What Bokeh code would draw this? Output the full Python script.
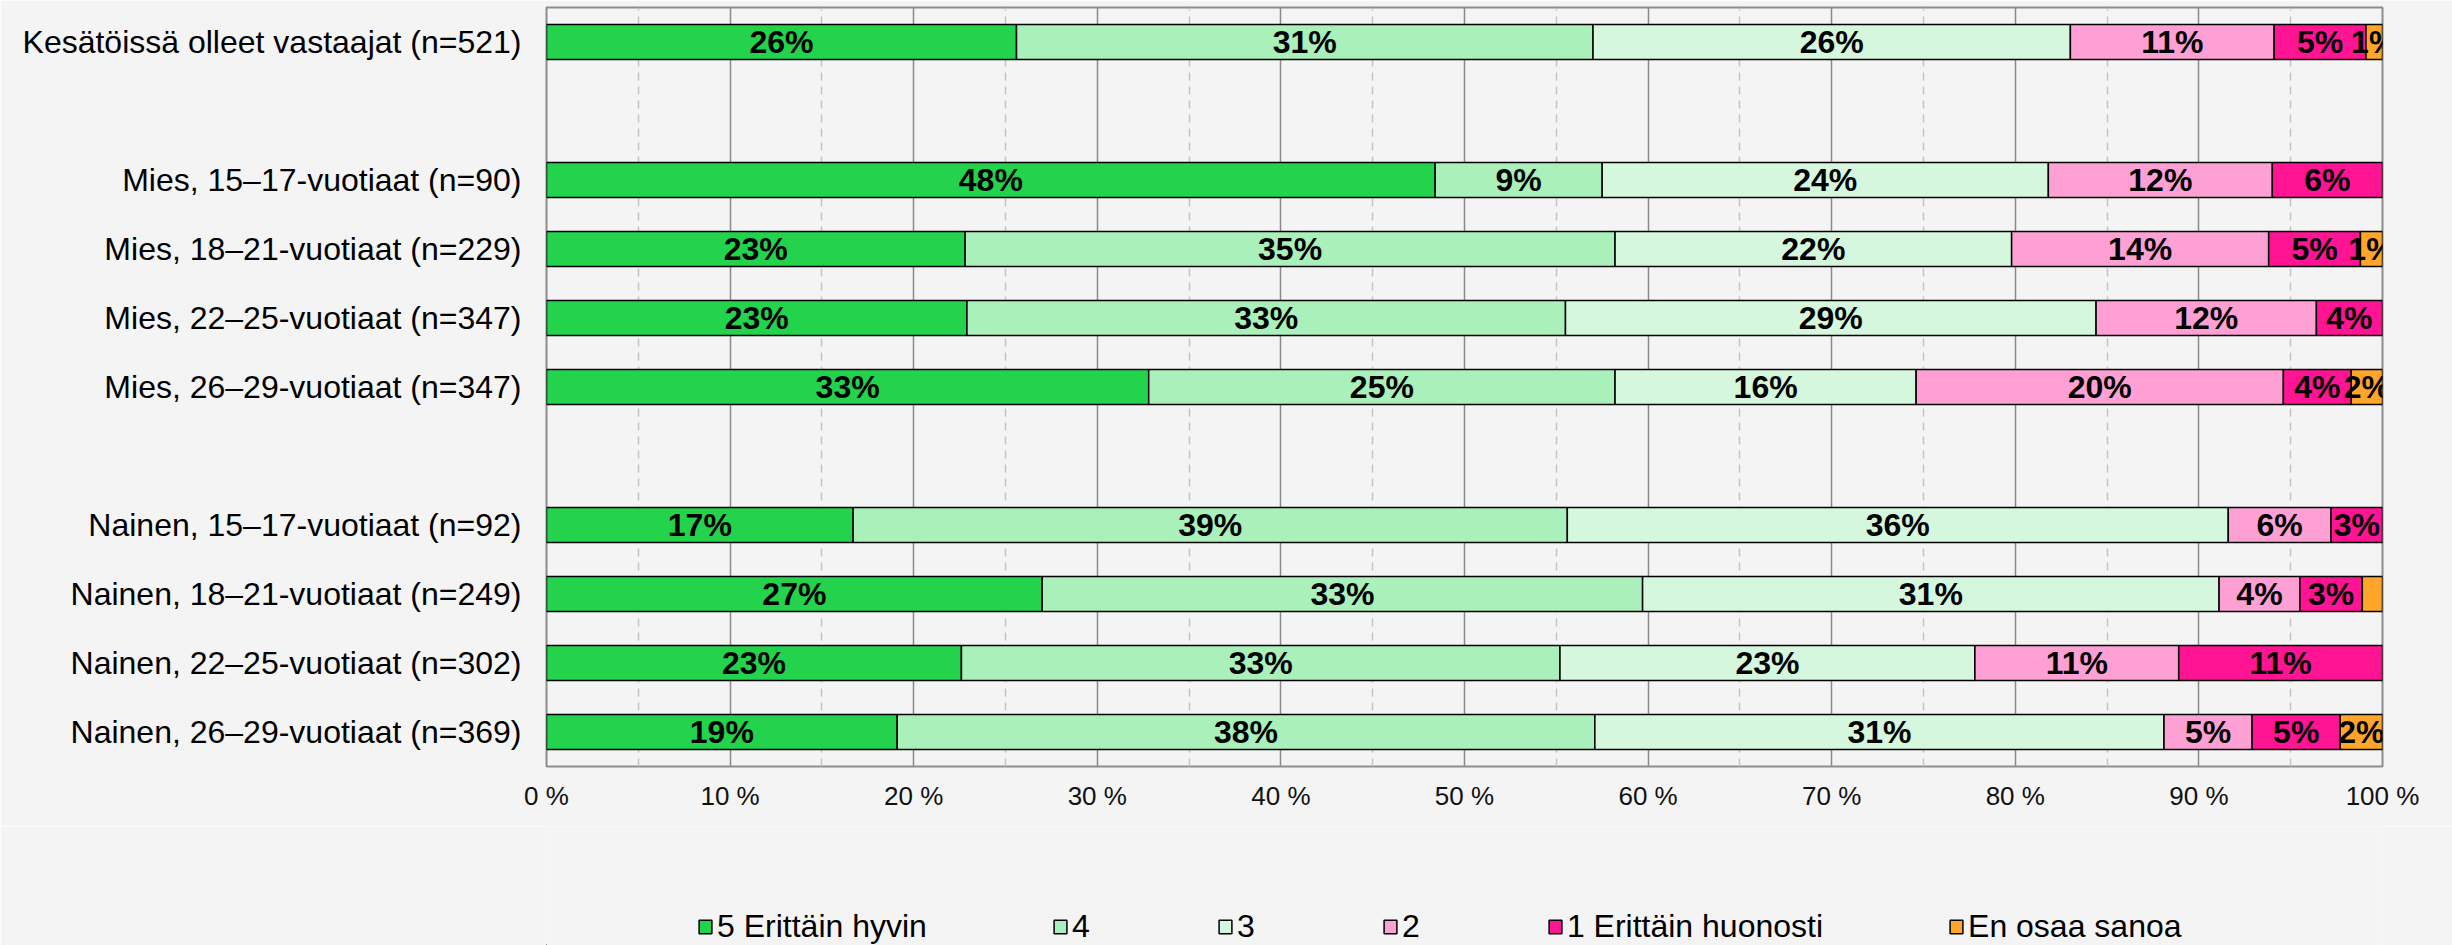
import numpy as np
from bokeh.plotting import figure
from bokeh.layouts import column
from bokeh.models import (ColumnDataSource, FactorRange, Range1d, FixedTicker, Grid,
                          Legend, LegendItem)
from bokeh.core.properties import value
from bokeh.embed import file_html
from bokeh.resources import INLINE

# ---------------- data ----------------
categories = [
    "Kesätöissä olleet vastaajat (n=521)",
    " ",
    "Mies, 15–17-vuotiaat (n=90)",
    "Mies, 18–21-vuotiaat (n=229)",
    "Mies, 22–25-vuotiaat (n=347)",
    "Mies, 26–29-vuotiaat (n=347)",
    "  ",
    "Nainen, 15–17-vuotiaat (n=92)",
    "Nainen, 18–21-vuotiaat (n=249)",
    "Nainen, 22–25-vuotiaat (n=302)",
    "Nainen, 26–29-vuotiaat (n=369)",
]
series_names = ["5 Erittäin hyvin", "4", "3", "2", "1 Erittäin huonosti", "En osaa sanoa"]
series_colors = ["#22d34b", "#a9f0bb", "#d4f7dd", "#ffa0d5", "#ff1493", "#ffa52a"]

v5 = [25.6, 0, 48.4, 22.8, 22.9, 32.8, 0, 16.7, 27.0, 22.6, 19.1]
v4 = [31.4, 0, 9.1, 35.4, 32.6, 25.4, 0, 38.9, 32.7, 32.6, 38.0]
v3 = [26.0, 0, 24.3, 21.6, 28.9, 16.4, 0, 36.0, 31.4, 22.6, 31.0]
v2 = [11.1, 0, 12.2, 14.0, 12.0, 20.0, 0, 5.6, 4.4, 11.1, 4.8]
v1 = [5.0, 0, 6.0, 5.0, 3.6, 3.7, 0, 2.8, 3.4, 11.1, 4.8]
veos = [0.9, 0, 0.0, 1.2, 0.0, 1.7, 0, 0.0, 1.1, 0.0, 2.3]
series_values = [v5, v4, v3, v2, v1, veos]

# labels that are not shown in the original (category, series)
hidden_labels = [("Nainen, 18–21-vuotiaat (n=249)", "En osaa sanoa")]

x_ticks = [0, 10, 20, 30, 40, 50, 60, 70, 80, 90, 100]
x_tick_labels = ["0 %", "10 %", "20 %", "30 %", "40 %", "50 %", "60 %", "70 %", "80 %", "90 %", "100 %"]
x_minor_ticks = [5, 15, 25, 35, 45, 55, 65, 75, 85, 95]

FONT = "Liberation Sans"
BG = "#f4f4f4"
W = 2452
H_MAIN = 826
H_LEG = 945 - H_MAIN
LEFT = 546
RIGHT = 70

# ---------------- main figure ----------------
p = figure(width=W, height=H_MAIN,
           y_range=FactorRange(factors=list(reversed(categories))),
           x_range=Range1d(0, 100),
           output_backend="svg", toolbar_location=None,
           min_border_left=LEFT, min_border_right=RIGHT, min_border_top=7, min_border_bottom=60,
           background_fill_color=BG, border_fill_color=BG)

p.outline_line_color = "#8c8c8c"
p.outline_line_width = 2

p.xgrid.ticker = FixedTicker(ticks=x_ticks)
p.xgrid.grid_line_color = "#8a8a8a"
p.xgrid.grid_line_width = 1.5
p.ygrid.visible = False
minor_grid = Grid(dimension=0, ticker=FixedTicker(ticks=x_minor_ticks),
                  grid_line_color="#c4c4c4", grid_line_width=1.5, grid_line_dash="8 6")
p.add_layout(minor_grid)

vals = np.array(series_values, dtype=float)  # shape (series, cats)
rights = np.cumsum(vals, axis=0)
lefts = rights - vals

lab_x, lab_y, lab_t = [], [], []
for i, name in enumerate(series_names):
    ys, ls, rs = [], [], []
    for j, cat in enumerate(categories):
        v = vals[i, j]
        if v <= 0:
            continue
        ys.append(cat)
        ls.append(lefts[i, j])
        rs.append(rights[i, j])
        if (cat, name) not in hidden_labels:
            lab_x.append((lefts[i, j] + rights[i, j]) / 2)
            lab_y.append(cat)
            lab_t.append(f"{int(round(v))}%")
    src = ColumnDataSource(dict(y=ys, left=ls, right=rs))
    p.hbar(y="y", left="left", right="right", height=0.51, source=src,
           fill_color=series_colors[i], line_color="black", line_width=1.5)

lab_src = ColumnDataSource(dict(x=lab_x, y=lab_y, t=lab_t))
p.text(x="x", y="y", text="t", source=lab_src, text_font=value(FONT), text_font_style="bold",
       text_font_size="32px", text_align="center", text_baseline="middle", text_color="black")

# axes
p.xaxis.ticker = FixedTicker(ticks=x_ticks)
p.xaxis.major_label_overrides = {t: l for t, l in zip(x_ticks, x_tick_labels)}
p.xaxis.axis_line_color = None
p.xaxis.major_tick_line_color = None
p.xaxis.minor_tick_line_color = None
p.xaxis.major_label_text_font = FONT
p.xaxis.major_label_text_font_size = "26px"
p.xaxis.major_label_text_color = "#111111"
p.xaxis.major_label_standoff = 8

p.yaxis.axis_line_color = None
p.yaxis.major_tick_line_color = None
p.yaxis.minor_tick_line_color = None
p.yaxis.major_label_text_font = FONT
p.yaxis.major_label_text_font_size = "32px"
p.yaxis.major_label_text_color = "#000000"
p.yaxis.major_label_standoff = 19

# ---------------- legend figure ----------------
pl = figure(width=W, height=H_LEG, x_range=Range1d(0, 1), y_range=Range1d(0, 1),
            output_backend="svg", toolbar_location=None,
            min_border_left=LEFT, min_border_right=RIGHT, min_border_top=0, min_border_bottom=0,
            background_fill_color=BG, border_fill_color=BG)
pl.axis.visible = False
pl.grid.visible = False
pl.outline_line_color = None

leg_items = []
for name, col in zip(series_names, series_colors):
    # off-range placeholder so that the legend swatch is drawn
    dummy = ColumnDataSource(dict(y=[-5.0], left=[-5.0], right=[-4.0]))
    r = pl.hbar(y="y", left="left", right="right", height=0.5, source=dummy,
                fill_color=col, line_color="black", line_width=1.5)
    leg_items.append(LegendItem(label=name, renderers=[r]))

legend = Legend(items=leg_items, orientation="horizontal", location=(697 - LEFT, 0),
                spacing=125, padding=0, margin=0,
                glyph_width=16, glyph_height=17, label_standoff=4,
                label_text_font=FONT, label_text_font_size="32px", label_text_color="#000000",
                border_line_color=None, background_fill_alpha=0)
pl.add_layout(legend)

layout = column(p, pl, spacing=0)

html = file_html(layout, INLINE)
html = html.replace("<body>", f'<body style="background:{BG}">', 1)
open("out.html", "w").write(html)
